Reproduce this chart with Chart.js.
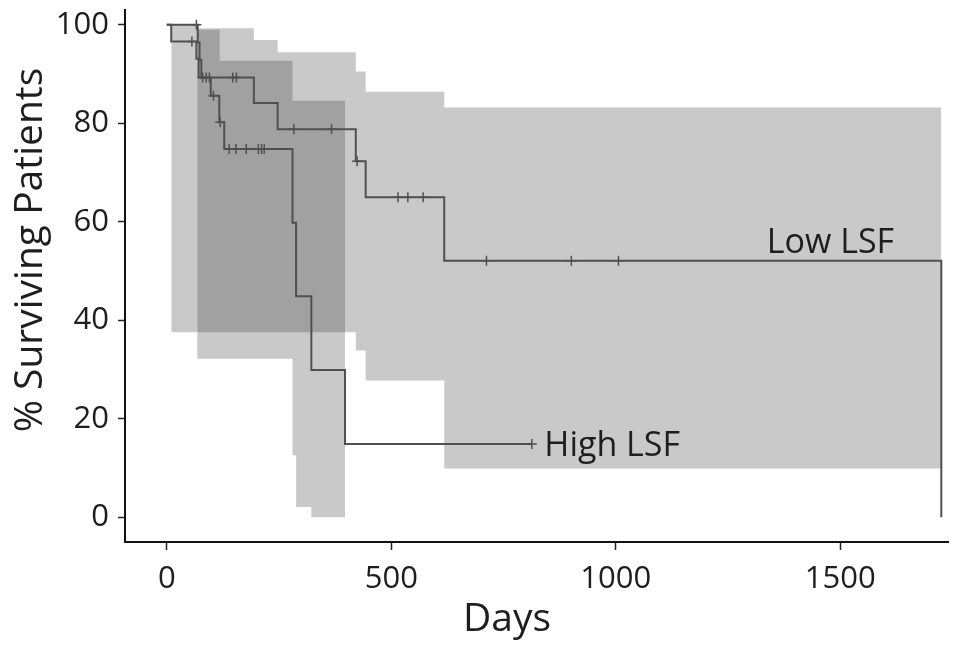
<!DOCTYPE html>
<html>
<head>
<meta charset="utf-8">
<script src="https://cdn.jsdelivr.net/npm/chart.js@4.4.1/dist/chart.umd.min.js"></script>
<style>
  html, body { margin: 0; padding: 0; background: #fff; }
</style>
</head>
<body>
<canvas id="km-chart-id" width="955" height="648"></canvas>
<script>
// ===================== DATA =====================

// Low LSF Kaplan-Meier steps
const lowDays = [0, 69, 73, 77, 194, 247, 421, 443, 618, 1725];
const lowSurv = [100, 96.4, 92.9, 89.3, 84.1, 78.8, 72.3, 65.0, 52.1, 0];
const lowCensorDays = [66, 80, 88, 95, 147, 155, 283, 367, 424, 515, 537, 571, 712, 901, 1006];

// High LSF Kaplan-Meier steps
const highDays = [0, 10, 66, 71, 98, 117, 128, 280, 288, 322, 397, 813];
const highSurv = [100, 96.6, 93.1, 89.3, 85.6, 80.2, 74.8, 59.8, 44.9, 29.9, 14.9, 14.9];
const highCensorDays = [56, 104, 119, 139, 154, 177, 204, 211, 217, 813];

// confidence bands
const lowCiDays = [68, 194, 247, 421, 443, 618, 1725];
const lowCiUpper = [99.3, 96.9, 94.4, 90.5, 86.4, 83.2, 83.2];
const lowCiLower = [37.6, 37.6, 37.6, 33.9, 27.8, 9.9, 9.9];

const highCiDays = [10, 68, 118, 280, 288, 322, 397];
const highCiUpper = [100, 99, 92.7, 84.6, 84.6, 84.6, 84.6];
const highCiLower = [37.6, 32.2, 32.2, 12.6, 2.1, 0, 0];

// axes
const xTicks = [0, 500, 1000, 1500];
const yTicks = [0, 20, 40, 60, 80, 100];

// curve labels (data coordinates)
const curveLabels = [
  { text: 'Low LSF', day: 1478, pct: 55.6 },
  { text: 'High LSF', day: 992, pct: 14.4 }
];

// ===================== HELPERS =====================
const toPoints = (xs, ys) => xs.map((d, i) => ({ x: d, y: ys[i] }));

// survival value of a step curve at a given day (for censor marks)
function survAt(days, surv, d) {
  let v = surv[0];
  for (let i = 0; i < days.length; i++) {
    if (days[i] <= d) v = surv[i];
  }
  return v;
}

const bandFill = 'rgba(54, 54, 54, 0.27)';
const curveColor = '#505050';
const clear = 'rgba(0,0,0,0)';

Chart.defaults.font.family = '"Open Sans", sans-serif';
Chart.defaults.color = '#1e1e1e';

// axis titles + curve labels
const textPlugin = {
  id: 'kmText',
  afterDatasetsDraw(chart) {
    const { ctx, scales: { x, y } } = chart;
    ctx.save();
    ctx.fillStyle = '#1e1e1e';
    ctx.textAlign = 'center';
    ctx.textBaseline = 'middle';
    ctx.font = '34px "Open Sans"';
    curveLabels.forEach(l => {
      ctx.fillText(l.text, x.getPixelForValue(l.day), y.getPixelForValue(l.pct));
    });
    ctx.font = '39px "Open Sans"';
    ctx.fillText('Days', 507, 620);
    ctx.translate(31, 250);
    ctx.rotate(-Math.PI / 2);
    ctx.fillText('% Surviving Patients', 0, 0);
    ctx.restore();
  }
};

const ctx = document.getElementById('km-chart-id');
new Chart(ctx, {
  type: 'line',
  data: {
    datasets: [
      // LOW LSF BAND
      {
        data: toPoints(lowCiDays, lowCiUpper),
        stepped: true, fill: '+1', backgroundColor: bandFill,
        borderColor: clear, borderWidth: 0, pointRadius: 0, order: 3
      },
      {
        data: toPoints(lowCiDays, lowCiLower),
        stepped: true, fill: false,
        borderColor: clear, borderWidth: 0, pointRadius: 0, order: 3
      },
      // HIGH LSF BAND
      {
        data: toPoints(highCiDays, highCiUpper),
        stepped: true, fill: '+1', backgroundColor: bandFill,
        borderColor: clear, borderWidth: 0, pointRadius: 0, order: 3
      },
      {
        data: toPoints(highCiDays, highCiLower),
        stepped: true, fill: false,
        borderColor: clear, borderWidth: 0, pointRadius: 0, order: 3
      },
      // CURVES
      {
        label: 'Low LSF',
        data: toPoints(lowDays, lowSurv),
        stepped: true, fill: false,
        borderColor: curveColor, borderWidth: 2, pointRadius: 0, order: 2
      },
      {
        label: 'High LSF',
        data: toPoints(highDays, highSurv),
        stepped: true, fill: false,
        borderColor: curveColor, borderWidth: 2, pointRadius: 0, order: 2
      },
      // CENSOR MARKS
      {
        data: lowCensorDays.map(d => ({ x: d, y: survAt(lowDays, lowSurv, d) })),
        showLine: false, pointStyle: 'cross', pointRadius: 5,
        borderColor: curveColor, borderWidth: 1.5, order: 1
      },
      {
        data: highCensorDays.map(d => ({ x: d, y: survAt(highDays, highSurv, d) })),
        showLine: false, pointStyle: 'cross', pointRadius: 5,
        borderColor: curveColor, borderWidth: 1.5, order: 1
      }
    ]
  },
  options: {
    responsive: false,
    animation: false,
    layout: { padding: { top: 10, right: 0, left: 0, bottom: 0 } },
    plugins: {
      legend: { display: false },
      tooltip: { enabled: false }
    },
    scales: {
      x: {
        type: 'linear',
        min: -93,
        max: 1741,
        afterBuildTicks: s => { s.ticks = xTicks.map(v => ({ value: v })); },
        afterFit: s => { s.height = 106; s.paddingLeft = 0; s.paddingRight = 0; },
        ticks: {
          font: { size: 31 }, color: '#1e1e1e', padding: 11, maxRotation: 0,
          callback: v => String(v)
        },
        grid: {
          drawOnChartArea: false, drawTicks: true, tickLength: 8,
          tickColor: '#222', tickWidth: 1.5
        },
        border: { display: true, color: '#111', width: 2 }
      },
      y: {
        type: 'linear',
        min: -5,
        max: 103,
        afterBuildTicks: s => { s.ticks = yTicks.map(v => ({ value: v })); },
        afterFit: s => { s.width = 125; s.paddingTop = 0; s.paddingBottom = 0; },
        ticks: {
          font: { size: 31 }, color: '#1e1e1e', padding: 9,
          callback: v => String(v)
        },
        grid: {
          drawOnChartArea: false, drawTicks: true, tickLength: 7,
          tickColor: '#222', tickWidth: 1.5
        },
        border: { display: true, color: '#111', width: 2 }
      }
    }
  },
  plugins: [textPlugin]
});
</script>
</body>
</html>
